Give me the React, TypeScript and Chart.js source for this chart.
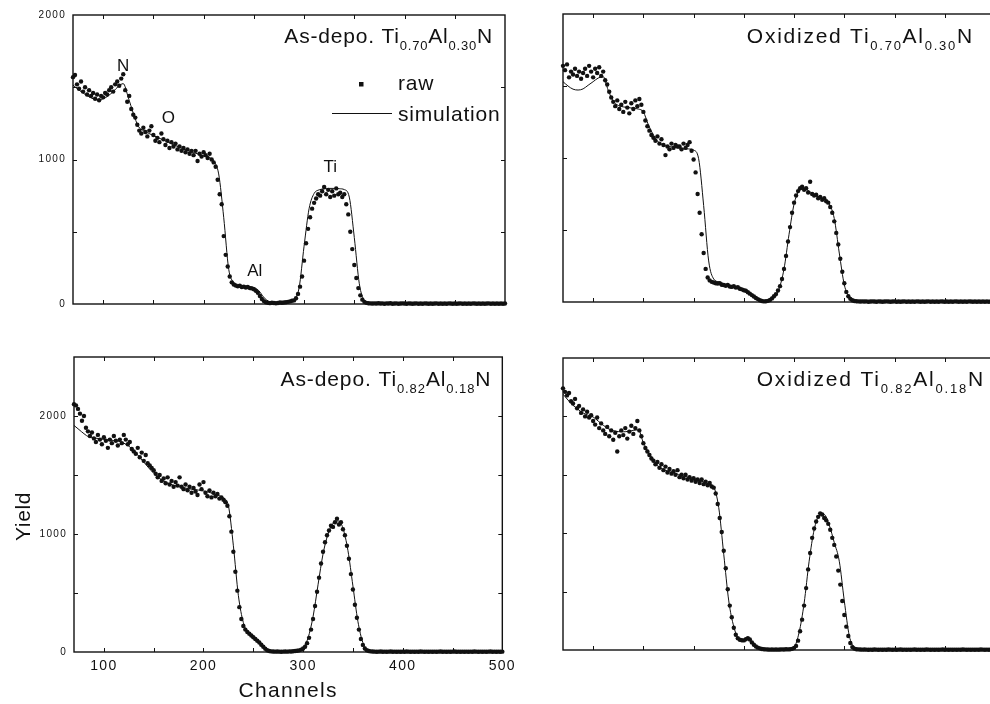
import { useEffect, useRef } from "react";
import { Chart, registerables } from "chart.js";

Chart.register(...registerables);

const FONT = '"Liberation Sans", Arial, Helvetica, sans-serif';
const INK = "#111111";

// Detector channel grid: raw spectra every 2 channels, simulated spectra every 5 channels.
const CH_MIN = 70;
const CH_MAX = 500;
const RAW_CHANNELS: number[] = Array.from({ length: 216 }, (_, i) => 70 + 2 * i);
const SIM_CHANNELS: number[] = Array.from({ length: 87 }, (_, i) => 70 + 5 * i);

const X_LABELS = [100, 200, 300, 400, 500];
const X_MARKS = [100, 150, 200, 250, 300, 350, 400, 450];
const Y_LABELS = [0, 1000, 2000];
const Y_MARKS_TOP = [500, 1000, 1500];
const Y_MARKS_BOTTOM = [500, 1000, 1500, 2000];

// As-deposited Ti0.70Al0.30N
const RAW_TL = [
  1570, 1585, 1520, 1490, 1540, 1470, 1500, 1450, 1480, 1440, 1460, 1420, 1450, 1410, 1440,
  1430, 1460, 1450, 1480, 1500, 1470, 1520, 1540, 1510, 1560, 1590, 1480, 1400, 1440, 1350,
  1310, 1290, 1240, 1200, 1180, 1220, 1190, 1160, 1200, 1230, 1170, 1130, 1150, 1120, 1180,
  1140, 1100, 1130, 1080, 1120, 1090, 1110, 1070, 1090, 1060, 1080, 1050, 1070, 1040, 1060,
  1030, 1060, 990, 1040, 1020, 1050, 1030, 1010, 1040, 1000, 980, 950, 860, 760, 690,
  470, 340, 260, 190, 150, 135, 128, 122, 126, 118, 120, 114, 118, 110, 108,
  102, 92, 78, 55, 35, 20, 12, 8, 6, 9, 7, 5, 7, 10, 9,
  10, 12, 15, 18, 22, 25, 40, 70, 120, 190, 300, 420, 520, 600, 660,
  700, 730, 760, 750, 780, 810, 760, 790, 740, 780, 750, 800, 760, 770, 740,
  760, 690, 620, 500, 380, 270, 180, 110, 60, 30, 15, 8, 5, 4, 3,
  4, 3, 5, 3, 4, 2, 4, 3, 5, 2, 3, 4, 2, 3, 4,
  3, 2, 4, 3, 2, 3, 4, 2, 3, 2, 4, 3, 2, 3, 2,
  3, 4, 2, 3, 2, 3, 2, 4, 3, 2, 3, 2, 3, 4, 2,
  3, 2, 3, 2, 4, 3, 2, 3, 2, 3, 2, 3, 4, 2, 3,
  2, 3, 2, 3, 2, 3,
];
const SIM_TL = [
  1515, 1485, 1460, 1438, 1420, 1413, 1420, 1440, 1470, 1505, 1525,
  1430, 1320, 1230, 1200, 1182, 1166, 1150, 1135, 1118, 1102, 1088,
  1073, 1060, 1048, 1037, 1026, 1015, 990, 900, 600, 240, 150,
  130, 125, 121, 114, 92, 45, 18, 10, 8, 8, 10,
  30, 110, 400, 660, 765, 790, 797, 800, 800, 798, 792,
  740, 460, 140, 25, 8, 4, 3, 2, 2, 2, 2,
  2, 2, 2, 2, 2, 2, 2, 2, 2, 2, 2,
  2, 2, 2, 2, 2, 2, 2, 2, 2, 2,
];

// Oxidized Ti0.70Al0.30N
const RAW_TR = [
  1640, 1610, 1650, 1560, 1600, 1580, 1620, 1570, 1600, 1550, 1590, 1620, 1570, 1640, 1600,
  1560, 1620, 1590, 1630, 1570, 1600, 1540, 1510, 1460, 1420, 1390, 1360, 1400, 1340, 1370,
  1320, 1390, 1350, 1310, 1380, 1340, 1400, 1360, 1410, 1370, 1320, 1260, 1220, 1190, 1160,
  1140, 1120, 1150, 1100, 1130, 1090, 1020, 1080, 1060, 1100, 1070, 1090, 1080, 1080, 1060,
  1100, 1070, 1090, 1110, 1050, 990, 900, 750, 620, 470, 340, 230, 170, 150, 140,
  135, 130, 128, 130, 120, 118, 112, 118, 108, 105, 110, 100, 102, 92, 88,
  82, 78, 68, 58, 48, 38, 28, 20, 12, 7, 4, 5, 8, 14, 25,
  40, 55, 80, 110, 160, 230, 320, 420, 520, 620, 690, 740, 770, 790, 800,
  780, 790, 760, 835, 750, 740, 745, 720, 730, 710, 720, 700, 690, 660, 620,
  560, 480, 400, 300, 210, 130, 70, 40, 22, 12, 7, 5, 4, 3, 4,
  3, 4, 2, 3, 4, 3, 2, 4, 3, 2, 3, 4, 3, 2, 3,
  4, 2, 3, 2, 3, 4, 2, 3, 2, 3, 2, 4, 3, 2, 3,
  2, 3, 4, 2, 3, 2, 3, 2, 4, 3, 2, 3, 2, 3, 2,
  4, 3, 2, 3, 2, 3, 2, 4, 3, 2, 3, 2, 3, 2, 3,
  2, 3, 2, 4, 2, 3,
];
const SIM_TR = [
  1530, 1500, 1478, 1472, 1480, 1505, 1530, 1555, 1565, 1470, 1395,
  1365, 1355, 1350, 1345, 1340, 1320, 1230, 1160, 1110, 1090, 1080,
  1075, 1070, 1066, 1063, 1055, 995, 670, 285, 160, 140, 128,
  118, 108, 98, 88, 70, 42, 16, 6, 10, 30, 90,
  230, 470, 680, 770, 785, 770, 745, 728, 712, 680, 580,
  340, 120, 30, 8, 3, 2, 2, 2, 2, 2, 2,
  2, 2, 2, 2, 2, 2, 2, 2, 2, 2, 2,
  2, 2, 2, 2, 2, 2, 2, 2, 2, 2,
];

// As-deposited Ti0.82Al0.18N
const RAW_BL = [
  2100, 2090, 2060, 2020, 1960, 2000, 1900, 1870, 1830, 1860, 1810, 1780, 1840, 1800, 1760,
  1820, 1790, 1730, 1800, 1770, 1830, 1790, 1750, 1800, 1770, 1840, 1800, 1760, 1780, 1720,
  1700, 1680, 1730, 1650, 1690, 1620, 1670, 1600, 1580, 1560, 1540, 1510, 1480, 1500, 1450,
  1470, 1430, 1480, 1420, 1450, 1400, 1440, 1410, 1480, 1400, 1380, 1420, 1370, 1400, 1350,
  1390, 1360, 1330, 1420, 1380, 1440, 1350, 1320, 1370, 1310, 1350, 1320, 1340, 1300, 1310,
  1290, 1270, 1240, 1150, 1020, 850, 680, 520, 380, 280, 220, 190, 170, 155, 140,
  125, 110, 95, 80, 62, 45, 28, 15, 8, 5, 4, 3, 4, 3, 2,
  3, 4, 3, 5, 4, 6, 8, 10, 14, 20, 30, 45, 75, 120, 190,
  280, 390, 510, 630, 750, 850, 930, 990, 1030, 1070, 1060, 1100, 1130, 1080, 1100,
  1040, 990, 900, 790, 660, 530, 400, 290, 190, 110, 60, 30, 15, 8, 5,
  4, 3, 2, 3, 4, 2, 3, 2, 3, 4, 2, 3, 2, 3, 2,
  3, 2, 4, 3, 2, 3, 2, 3, 2, 4, 3, 2, 3, 2, 3,
  2, 3, 2, 3, 4, 2, 3, 2, 3, 2, 3, 4, 2, 3, 2,
  3, 2, 3, 2, 3, 2, 4, 3, 2, 3, 2, 3, 2, 3, 4,
  2, 3, 2, 3, 2, 3,
];
const SIM_BL = [
  1920, 1885, 1850, 1822, 1815, 1808, 1802, 1797, 1792, 1785, 1770,
  1745, 1705, 1660, 1610, 1560, 1515, 1478, 1448, 1428, 1413, 1402,
  1392, 1384, 1378, 1372, 1365, 1355, 1342, 1328, 1305, 1240, 900,
  480, 250, 165, 125, 85, 45, 15, 6, 4, 3, 4,
  6, 12, 35, 120, 300, 570, 830, 1000, 1090, 1110, 1050,
  860, 560, 260, 80, 18, 5, 2, 2, 2, 2, 2,
  2, 2, 2, 2, 2, 2, 2, 2, 2, 2, 2,
  2, 2, 2, 2, 2, 2, 2, 2, 2, 2,
];

// Oxidized Ti0.82Al0.18N
const RAW_BR = [
  2240, 2210, 2180, 2200, 2130, 2110, 2150, 2070, 2090, 2030, 2060, 2000, 2040, 1990, 2010,
  1960, 1930, 1990, 1900, 1940, 1880, 1850, 1910, 1830, 1880, 1800, 1860, 1700, 1830, 1880,
  1840, 1900, 1810, 1870, 1920, 1850, 1900, 1960, 1880, 1830, 1770, 1730, 1700, 1670, 1640,
  1620, 1590, 1610, 1560, 1590, 1540, 1570, 1520, 1550, 1510, 1530, 1500, 1540, 1480, 1500,
  1470, 1500, 1460, 1480, 1450, 1470, 1440, 1460, 1430, 1460, 1420, 1440, 1410, 1430, 1400,
  1390, 1340, 1250, 1130, 1010, 850, 700, 520, 380, 280, 190, 130, 100, 88, 84,
  82, 92, 102, 90, 65, 45, 30, 20, 14, 9, 6, 5, 4, 3, 4,
  3, 4, 3, 4, 5, 4, 6, 5, 7, 10, 18, 35, 80, 160, 260,
  380, 530, 690, 830, 960, 1040, 1100, 1140, 1170, 1160, 1130, 1110, 1080, 1030, 960,
  900, 800, 680, 560, 420, 300, 200, 120, 60, 25, 12, 7, 5, 4, 3,
  4, 3, 2, 3, 2, 4, 3, 2, 3, 2, 3, 2, 4, 3, 2,
  3, 2, 3, 4, 2, 3, 2, 3, 2, 3, 4, 2, 3, 2, 3,
  2, 4, 3, 2, 3, 2, 3, 2, 3, 4, 2, 3, 2, 3, 2,
  3, 2, 3, 2, 4, 3, 2, 3, 2, 3, 2, 3, 2, 4, 3,
  2, 3, 2, 3, 2, 3,
];
const SIM_BR = [
  2190, 2140, 2095, 2060, 2030, 2010, 1995, 1960, 1925, 1895, 1878,
  1870, 1868, 1872, 1880, 1885, 1775, 1695, 1628, 1570, 1545, 1530,
  1515, 1503, 1490, 1478, 1466, 1453, 1440, 1422, 1395, 1220, 820,
  420, 200, 95, 82, 95, 50, 20, 8, 5, 4, 4,
  5, 10, 25, 150, 400, 760, 1030, 1150, 1160, 1070, 920,
  760, 420, 120, 25, 6, 3, 2, 2, 2, 2, 2,
  2, 2, 2, 2, 2, 2, 2, 2, 2, 2, 2,
  2, 2, 2, 2, 2, 2, 2, 2, 2, 2,
];

// Element edge labels on the as-deposited Ti0.70Al0.30N spectrum: [text, channel, yield]
const PEAK_LABELS: [string, number, number][] = [
  ["N", 120, 1647],
  ["O", 165, 1287],
  ["Ti", 326, 945],
  ["Al", 251, 225],
];

type Seg = [string, boolean];

type Panel = {
  raw: number[];
  sim: number[];
  yMax: number;
  yMarks: number[];
  title: Seg[];
  box: { left: number; top: number; width: number; height: number };
  pad: { left: number; top: number; right: number; bottom: number };
  yWidth: number;
  xHeight: number;
  yLabels: boolean;
  xLabels: boolean;
  titleInset: number;
  titleBaseline: number;
  titleSpacing: number;
  legend?: boolean;
  peaks?: boolean;
  yieldTitle?: boolean;
};

const PANELS: Panel[] = [
  {
    raw: RAW_TL, sim: SIM_TL, yMax: 2000, yMarks: Y_MARKS_TOP,
    title: [["As-depo. Ti", false], ["0.70", true], ["Al", false], ["0.30", true], ["N", false]],
    box: { left: 0, top: 0, width: 520, height: 320 },
    pad: { left: 0, top: 15, right: 15, bottom: 16 },
    yWidth: 73, xHeight: 0, yLabels: true, xLabels: false,
    titleInset: 12, titleBaseline: 28, titleSpacing: 0.8, legend: true, peaks: true,
  },
  {
    raw: RAW_TR, sim: SIM_TR, yMax: 2000, yMarks: Y_MARKS_TOP,
    title: [["Oxidized Ti", false], ["0.70", true], ["Al", false], ["0.30", true], ["N", false]],
    box: { left: 490, top: 0, width: 520, height: 320 },
    pad: { left: 0, top: 14, right: 15, bottom: 18 },
    yWidth: 73, xHeight: 0, yLabels: false, xLabels: false,
    titleInset: 21, titleBaseline: 29, titleSpacing: 1.75,
  },
  {
    raw: RAW_BL, sim: SIM_BL, yMax: 2500, yMarks: Y_MARKS_BOTTOM,
    title: [["As-depo. Ti", false], ["0.82", true], ["Al", false], ["0.18", true], ["N", false]],
    box: { left: 0, top: 320, width: 520, height: 384 },
    pad: { left: 0, top: 37, right: 15, bottom: 0 },
    yWidth: 74, xHeight: 52, yLabels: true, xLabels: true,
    titleInset: 11, titleBaseline: 29, titleSpacing: 0.9, yieldTitle: true,
  },
  {
    raw: RAW_BR, sim: SIM_BR, yMax: 2500, yMarks: Y_MARKS_BOTTOM,
    title: [["Oxidized Ti", false], ["0.82", true], ["Al", false], ["0.18", true], ["N", false]],
    box: { left: 490, top: 320, width: 520, height: 384 },
    pad: { left: 0, top: 38, right: 15, bottom: 54 },
    yWidth: 73, xHeight: 0, yLabels: false, xLabels: false,
    titleInset: 10, titleBaseline: 28, titleSpacing: 1.8,
  },
];

function drawFormula(
  ctx: CanvasRenderingContext2D,
  segs: Seg[],
  right: number,
  baseline: number,
  spacing: number
) {
  const mainFont = `21px ${FONT}`;
  const subFont = `13px ${FONT}`;
  (ctx as any).letterSpacing = `${spacing}px`;
  const widths = segs.map(([t, sub]) => {
    ctx.font = sub ? subFont : mainFont;
    return ctx.measureText(t).width;
  });
  const total = widths.reduce((a, b) => a + b, 0);
  let x = right - total;
  ctx.textAlign = "left";
  ctx.textBaseline = "alphabetic";
  segs.forEach(([t, sub], i) => {
    ctx.font = sub ? subFont : mainFont;
    ctx.fillText(t, x, sub ? baseline + 7 : baseline);
    x += widths[i];
  });
}

function decorPlugin(panel: Panel) {
  return {
    id: "panelDecor",
    beforeDraw(chart: any) {
      // slightly tracked lettering for the axis labels
      chart.ctx.letterSpacing = "1.3px";
    },
    afterDatasetsDraw(chart: any) {
      const { ctx, chartArea: a, scales } = chart;
      const xs = scales.x;
      const ys = scales.y;
      ctx.save();
      ctx.strokeStyle = INK;
      ctx.fillStyle = INK;

      // frame
      ctx.lineWidth = 1.4;
      ctx.strokeRect(a.left, a.top, a.right - a.left, a.bottom - a.top);

      // inward tick marks on all four sides
      ctx.lineWidth = 1;
      ctx.beginPath();
      X_MARKS.forEach((v) => {
        const px = Math.round(xs.getPixelForValue(v)) + 0.5;
        ctx.moveTo(px, a.bottom);
        ctx.lineTo(px, a.bottom - 4);
        ctx.moveTo(px, a.top);
        ctx.lineTo(px, a.top + 4);
      });
      panel.yMarks.forEach((v) => {
        const py = Math.round(ys.getPixelForValue(v)) + 0.5;
        ctx.moveTo(a.left, py);
        ctx.lineTo(a.left + 4, py);
        ctx.moveTo(a.right, py);
        ctx.lineTo(a.right - 4, py);
      });
      ctx.stroke();

      // sample formula
      drawFormula(ctx, panel.title, a.right - panel.titleInset, a.top + panel.titleBaseline, panel.titleSpacing);

      if (panel.legend) {
        ctx.fillRect(a.left + 286, a.top + 67, 4.5, 4.5);
        ctx.lineWidth = 1;
        ctx.beginPath();
        ctx.moveTo(a.left + 259, a.top + 98.5);
        ctx.lineTo(a.left + 319, a.top + 98.5);
        ctx.stroke();
        ctx.font = `21px ${FONT}`;
        ctx.letterSpacing = "0.8px";
        ctx.textAlign = "left";
        ctx.textBaseline = "alphabetic";
        ctx.fillText("raw", a.left + 325, a.top + 75);
        ctx.fillText("simulation", a.left + 325, a.top + 106);
      }

      if (panel.peaks) {
        ctx.font = `17px ${FONT}`;
        ctx.letterSpacing = "0px";
        ctx.textAlign = "center";
        ctx.textBaseline = "middle";
        PEAK_LABELS.forEach(([t, ch, yv]) => {
          ctx.fillText(t, xs.getPixelForValue(ch), ys.getPixelForValue(yv));
        });
      }

      if (panel.yieldTitle) {
        ctx.save();
        ctx.translate(a.left - 44, (a.top + a.bottom) / 2 + 12);
        ctx.rotate(-Math.PI / 2);
        ctx.font = `21px ${FONT}`;
        ctx.letterSpacing = "0.6px";
        ctx.textAlign = "center";
        ctx.textBaseline = "alphabetic";
        ctx.fillText("Yield", 0, 0);
        ctx.restore();
      }
      ctx.restore();
    },
    afterDraw(chart: any) {
      chart.ctx.letterSpacing = "0px";
    },
  };
}

function PanelChart({ panel }: { panel: Panel }) {
  const ref = useRef<HTMLCanvasElement | null>(null);

  useEffect(() => {
    if (!ref.current) return;
    const chart = new Chart(ref.current, {
      type: "line",
      data: {
        datasets: [
          {
            label: "simulation",
            data: SIM_CHANNELS.map((c, i) => ({ x: c, y: panel.sim[i] })),
            borderColor: INK,
            borderWidth: 1,
            pointRadius: 0,
            cubicInterpolationMode: "monotone",
            fill: false,
            order: 1,
          },
          {
            label: "raw",
            data: RAW_CHANNELS.map((c, i) => ({ x: c, y: panel.raw[i] })),
            showLine: false,
            pointRadius: 2.2,
            pointStyle: "circle",
            pointBackgroundColor: INK,
            pointBorderWidth: 0,
            borderColor: INK,
            clip: false,
            order: 0,
          },
        ],
      },
      options: {
        animation: false,
        responsive: false,
        events: [],
        layout: { padding: panel.pad },
        plugins: {
          legend: { display: false },
          tooltip: { enabled: false },
        },
        scales: {
          x: {
            type: "linear",
            min: CH_MIN,
            max: CH_MAX,
            grid: { display: false, drawTicks: false },
            border: { display: false },
            afterBuildTicks: (s: any) => {
              s.ticks = X_LABELS.map((v) => ({ value: v }));
            },
            afterFit: (s: any) => {
              s.height = panel.xHeight;
            },
            ticks: {
              display: panel.xLabels,
              autoSkip: false,
              maxRotation: 0,
              padding: 6,
              color: INK,
              font: { family: FONT, size: 14 },
              callback: (v: any) => String(v),
            },
            title: {
              display: panel.xLabels,
              text: "Channels",
              color: INK,
              font: { family: FONT, size: 21 },
              padding: { top: 0, bottom: 0 },
            },
          },
          y: {
            type: "linear",
            min: 0,
            max: panel.yMax,
            grid: { display: false, drawTicks: false },
            border: { display: false },
            afterBuildTicks: (s: any) => {
              s.ticks = Y_LABELS.map((v) => ({ value: v }));
            },
            afterFit: (s: any) => {
              s.width = panel.yWidth;
            },
            ticks: {
              display: panel.yLabels,
              autoSkip: false,
              padding: 7,
              color: INK,
              font: { family: FONT, size: 10 },
              callback: (v: any) => String(v),
            },
          },
        },
      },
      plugins: [decorPlugin(panel)],
    } as any);
    return () => chart.destroy();
  }, [panel]);

  return (
    <canvas
      ref={ref}
      width={panel.box.width}
      height={panel.box.height}
      style={{
        position: "absolute",
        left: panel.box.left,
        top: panel.box.top,
        width: panel.box.width,
        height: panel.box.height,
      }}
    />
  );
}

export default function App() {
  return (
    <div
      style={{
        position: "fixed",
        left: 0,
        top: 0,
        width: 990,
        height: 704,
        overflow: "hidden",
        background: "#ffffff",
      }}
    >
      {PANELS.map((p, i) => (
        <PanelChart key={i} panel={p} />
      ))}
    </div>
  );
}
